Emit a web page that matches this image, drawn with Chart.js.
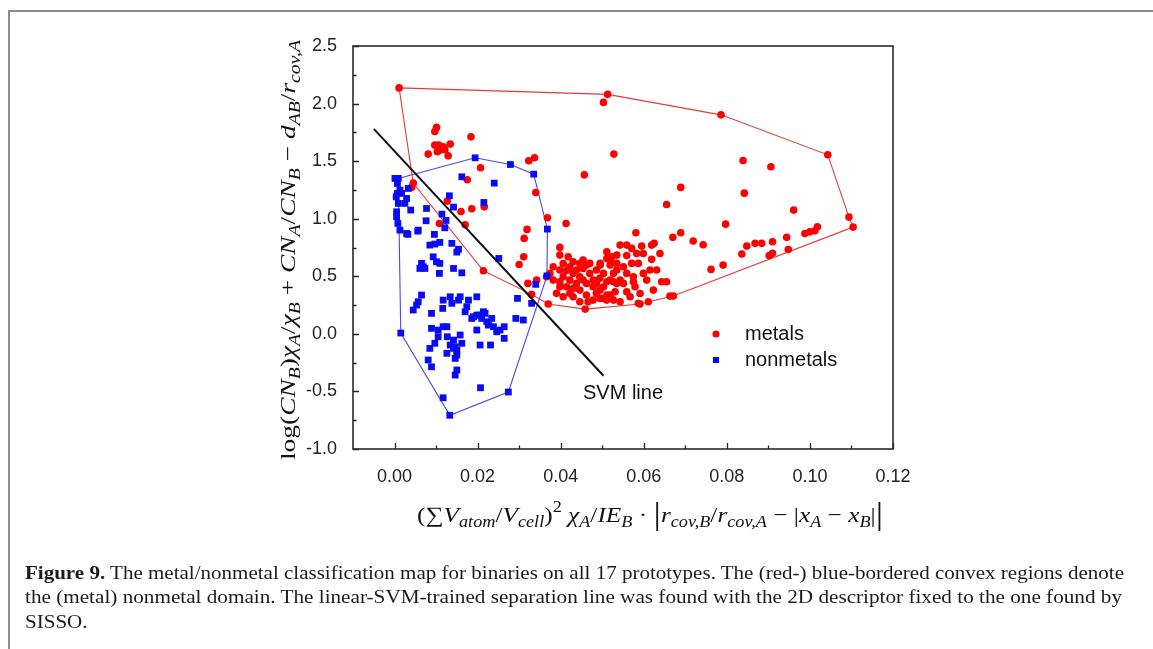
<!DOCTYPE html>
<html>
<head>
<meta charset="utf-8">
<script src="https://cdn.jsdelivr.net/npm/chart.js@4.4.1/dist/chart.umd.min.js"></script>
<style>
  html, body { margin: 0; padding: 0; background: #fff; width: 1153px; height: 649px; overflow: hidden; }
  #frame { position: absolute; left: 8px; top: 10px; width: 1200px; height: 700px; border-left: 2px solid #8c8c8c; border-top: 2px solid #8c8c8c; }
  #chart { position: absolute; left: 0; top: 0; }
  .cap { position: absolute; left: 25px; font-family: "Liberation Serif", serif; font-size: 19px; color: #1e1a1b; white-space: nowrap; transform-origin: 0 0; }
</style>
</head>
<body>
<div id="frame"></div>
<canvas id="chart" width="1153" height="649"></canvas>
<div class="cap" id="cap1" style="top:562px"><b>Figure 9.</b> The metal/nonmetal classification map for binaries on all 17 prototypes. The (red-) blue-bordered convex regions denote</div>
<div class="cap" id="cap2" style="top:586px">the (metal) nonmetal domain. The linear-SVM-trained separation line was found with the 2D descriptor fixed to the one found by</div>
<div class="cap" id="cap3" style="top:611px">SISSO.</div>
<script>
// axis ticks
var xTicks = [0, 0.02, 0.04, 0.06, 0.08, 0.10, 0.12];
var yTicks = [-1.0, -0.5, 0.0, 0.5, 1.0, 1.5, 2.0, 2.5];

// metals (red circles)
var metals = [
  [0.0011,2.136],[0.0513,2.08],[0.0503,2.01],[0.0786,1.902],[0.1043,1.555],[0.1094,1.014],[0.1104,0.927],
  [0.0101,1.793],[0.0097,1.758],[0.0184,1.711],[0.0097,1.639],[0.0106,1.639],[0.0117,1.624],[0.0134,1.648],
  [0.0109,1.595],[0.0113,1.61],[0.0121,1.6],[0.0081,1.561],[0.0129,1.546],[0.0103,1.581],
  [0.0207,1.442],[0.0323,1.503],[0.0337,1.529],[0.0175,1.338],[0.0457,1.381],[0.0045,1.309],[0.0041,1.272],
  [0.034,1.228],[0.0127,1.153],[0.016,1.063],[0.0186,1.086],[0.0216,1.103],[0.0108,0.959],[0.017,0.947],
  [0.0368,1.008],[0.0413,0.959],[0.0319,0.907],[0.0312,0.829],[0.0398,0.751],
  [0.0528,1.561],[0.0839,1.506],[0.0906,1.451],[0.0689,1.272],[0.0842,1.222],[0.0655,1.124],[0.0961,1.075],[0.0797,0.953],
  [0.0214,0.548],[0.03,0.603],[0.0311,0.669],[0.0321,0.438],[0.0342,0.467],[0.033,0.343],[0.037,0.259],
  [0.0398,0.684],[0.0418,0.669],[0.043,0.626],[0.0454,0.641],[0.047,0.612],[0.0495,0.597],[0.0511,0.713],
  [0.0519,0.641],[0.0535,0.684],[0.0382,0.583],[0.0398,0.554],[0.0366,0.496],[0.0382,0.467],[0.0398,0.452],
  [0.043,0.525],[0.0446,0.496],[0.047,0.525],[0.0414,0.409],[0.043,0.395],[0.0446,0.38],[0.0462,0.438],
  [0.0478,0.409],[0.0503,0.409],[0.0519,0.467],[0.0535,0.438],[0.039,0.352],[0.0406,0.322],[0.043,0.322],
  [0.0446,0.279],[0.0466,0.279],[0.0495,0.308],[0.0511,0.337],[0.0527,0.293],[0.0459,0.215],
  [0.0581,0.878],[0.067,0.838],[0.0689,0.878],[0.0719,0.806],[0.0743,0.774],[0.0595,0.762],[0.0619,0.771],
  [0.0625,0.786],[0.0543,0.771],[0.0559,0.771],[0.0571,0.742],[0.0511,0.655],[0.0523,0.669],[0.0535,0.612],
  [0.0519,0.597],[0.0495,0.612],[0.0571,0.612],[0.0587,0.612],[0.0619,0.647],[0.0615,0.554],[0.0503,0.525],
  [0.0527,0.525],[0.0543,0.467],[0.0551,0.438],[0.0575,0.496],[0.0575,0.452],[0.0579,0.409],[0.0511,0.452],
  [0.0527,0.452],[0.0495,0.38],[0.0531,0.366],[0.0519,0.337],[0.0503,0.308],[0.0511,0.293],[0.0543,0.279],
  [0.0587,0.265],[0.0611,0.279],[0.0591,0.259],[0.0643,0.452],[0.0655,0.452],[0.0663,0.328],[0.0671,0.328],
  [0.0762,0.56],[0.0791,0.597],[0.0836,0.693],[0.0848,0.762],[0.0868,0.786],[0.0884,0.786],[0.091,0.8],
  [0.091,0.699],[0.0902,0.68],[0.0948,0.733],[0.0944,0.838],[0.0988,0.872],[0.1,0.886],[0.1012,0.895],[0.1018,0.93],
  [0.0406,0.611],[0.0422,0.583],[0.0438,0.554],[0.0454,0.568],[0.0462,0.597],[0.0486,0.554],[0.0494,0.482],
  [0.0478,0.467],[0.0454,0.467],[0.0438,0.438],[0.0422,0.467],[0.0406,0.496],[0.0374,0.525],[0.0486,0.352],
  [0.0462,0.337],[0.0478,0.293],[0.0422,0.352],[0.0398,0.409],[0.0486,0.438],[0.0535,0.554],[0.0559,0.525],
  [0.0551,0.583],[0.0559,0.68],[0.0583,0.698],[0.0599,0.698],[0.0607,0.467],[0.0599,0.525],[0.0631,0.554],
  [0.0567,0.322],[0.0559,0.365],[0.0591,0.351],[0.0623,0.38],[0.0639,0.698],[0.0414,0.55],[0.0446,0.61]
];

// nonmetals (blue squares)
var nonmetals = [
  [0.0001,1.35],[0.0009,1.35],[0.0007,1.306],[0.0013,1.248],[0.0017,1.22],[0.0033,1.263],[0.0029,1.176],
  [0.0009,1.133],[0.0005,1.06],[0.0039,1.075],[0.0008,0.959],[0.0013,0.901],[0.0029,0.872],[0.0057,0.901],
  [0.0077,1.089],[0.0076,0.982],[0.0096,0.864],[0.0114,1.04],[0.0124,0.985],[0.0121,0.921],[0.0132,1.199],
  [0.0142,1.101],[0.0162,1.364],[0.024,1.309],[0.0215,1.141],[0.0007,1.22],[0.0005,1.017],[0.0025,1.133],[0.0004,1.19],
  [0.0194,1.529],[0.0279,1.471],[0.0335,1.387],[0.0368,0.91],[0.0367,0.504],[0.0274,-0.505],[0.0133,-0.707],[0.0015,0.007],
  [0.0032,0.864],[0.0056,0.892],[0.0085,0.771],[0.0097,0.78],[0.0109,0.794],[0.0138,0.786],[0.0154,0.735],[0.015,0.71],
  [0.0093,0.669],[0.0101,0.626],[0.0109,0.612],[0.0065,0.612],[0.0069,0.583],[0.0073,0.568],[0.0061,0.568],
  [0.0108,0.525],[0.0142,0.568],[0.0162,0.53],[0.0251,0.655],
  [0.0045,0.207],[0.0053,0.25],[0.0057,0.279],[0.0065,0.337],[0.0089,0.178],[0.0117,0.293],[0.0116,0.221],
  [0.0138,0.265],[0.0134,0.322],[0.0154,0.293],[0.0158,0.322],[0.017,0.192],[0.0174,0.235],[0.0178,0.293],
  [0.0198,0.322],[0.0186,0.134],[0.019,0.149],[0.0198,0.163],[0.0206,0.163],[0.021,0.134],[0.0214,0.192],
  [0.0218,0.178],[0.0222,0.105],[0.0226,0.076],[0.0234,0.134],[0.0238,0.062],[0.0246,0.018],[0.0254,0.033],
  [0.0264,0.062],[0.0264,-0.039],[0.0198,0.033],[0.0206,-0.097],[0.0231,-0.097],[0.0089,0.048],[0.0105,0.033],
  [0.0105,-0.025],[0.0097,-0.082],[0.0117,0.062],[0.0126,0.062],[0.0127,-0.025],[0.0134,-0.097],[0.0142,-0.054],
  [0.0146,-0.112],[0.0158,-0.01],[0.0162,-0.082],[0.015,-0.141],[0.0142,-0.126],[0.0126,-0.169],[0.0085,-0.126],
  [0.015,-0.184],[0.0146,-0.213],[0.0081,-0.227],[0.0089,-0.286],[0.015,-0.314],[0.0146,-0.358],[0.0207,-0.468],
  [0.0117,-0.555],[0.0296,0.308],[0.0292,0.134],[0.031,0.12],[0.033,0.265],[0.034,0.43]
];

// convex hull borders
var metalHull = [
  [0.0011,2.136],[0.0513,2.08],[0.0786,1.902],[0.1043,1.555],[0.1094,1.014],[0.1104,0.927],
  [0.0671,0.328],[0.0611,0.279],[0.0591,0.259],[0.0459,0.215],[0.037,0.259],[0.033,0.343],
  [0.0214,0.548],[0.0045,1.309],[0.0011,2.136]
];
var nonmetalHull = [
  [0.0009,1.35],[0.0194,1.529],[0.0279,1.471],[0.0335,1.387],[0.0368,0.91],[0.0367,0.504],
  [0.0274,-0.505],[0.0133,-0.707],[0.0015,0.007],[0.0009,1.35]
];
var svmLine = [[-0.005,1.78],[0.0503,-0.364]];

function pts(a) {
  return a.map(function(p) { return {x: p[0], y: p[1]}; });
}

// caption fit
(function() {
  var c1 = document.getElementById('cap1'), c2 = document.getElementById('cap2'), c3 = document.getElementById('cap3');
  var k1 = 1099 / c1.getBoundingClientRect().width;
  var k2 = 1097 / c2.getBoundingClientRect().width;
  c1.style.transform = 'scaleX(' + k1 + ')';
  c2.style.transform = 'scaleX(' + k2 + ')';
  c3.style.transform = 'scaleX(' + k1 + ')';
})();

var SERIF = '"Liberation Serif", serif';

function drawRich(ctx, segs, size, target) {
  var w = 0;
  segs.forEach(function(s) {
    var fs = size * (s.sub || s.sup ? 0.72 : (s.big || 1));
    s.font = (s.it ? 'italic ' : '') + fs + 'px ' + SERIF;
    ctx.font = s.font;
    s.w = ctx.measureText(s.t).width;
    w += s.w;
  });
  var k = target / w;
  ctx.save();
  ctx.scale(k, 1);
  var x = -w / 2;
  ctx.textBaseline = 'alphabetic';
  ctx.textAlign = 'left';
  segs.forEach(function(s) {
    ctx.font = s.font;
    var dy = s.sub ? size * 0.25 : (s.sup ? -size * 0.42 : 0);
    if (s.big) dy = size * 0.12;
    ctx.fillText(s.t, x, size * 0.35 + dy);
    x += s.w;
  });
  ctx.restore();
}

var yTitle = [
  {t: 'log('}, {t: 'CN', it: 1}, {t: 'B', it: 1, sub: 1}, {t: ')'}, {t: 'χ', it: 1}, {t: 'A', it: 1, sub: 1},
  {t: '/'}, {t: 'χ', it: 1}, {t: 'B', it: 1, sub: 1}, {t: ' + '}, {t: 'CN', it: 1}, {t: 'A', it: 1, sub: 1},
  {t: '/'}, {t: 'CN', it: 1}, {t: 'B', it: 1, sub: 1}, {t: ' − '}, {t: 'd', it: 1}, {t: 'AB', it: 1, sub: 1},
  {t: '/'}, {t: 'r', it: 1}, {t: 'cov,A', it: 1, sub: 1}
];
var xTitle = [
  {t: '(∑'}, {t: 'V', it: 1}, {t: 'atom', it: 1, sub: 1}, {t: '/'}, {t: 'V', it: 1}, {t: 'cell', it: 1, sub: 1},
  {t: ')'}, {t: '2', sup: 1}, {t: ' '}, {t: 'χ', it: 1}, {t: 'A', it: 1, sub: 1}, {t: '/'}, {t: 'IE', it: 1},
  {t: 'B', it: 1, sub: 1}, {t: ' · '}, {t: '|', big: 1.45}, {t: 'r', it: 1}, {t: 'cov,B', it: 1, sub: 1}, {t: '/'},
  {t: 'r', it: 1}, {t: 'cov,A', it: 1, sub: 1}, {t: ' − |'}, {t: 'x', it: 1}, {t: 'A', it: 1, sub: 1}, {t: ' − '},
  {t: 'x', it: 1}, {t: 'B', it: 1, sub: 1}, {t: '|'}, {t: '|', big: 1.45}
];

var deco = {
  id: 'deco',
  afterDatasetsDraw: function(chart) {
    var c = chart.ctx, a = chart.chartArea, sx = chart.scales.x, sy = chart.scales.y;
    c.save();
    // inner ticks
    c.strokeStyle = '#222';
    c.lineWidth = 1.3;
    c.beginPath();
    xTicks.forEach(function(v, i) {
      var px = Math.round(sx.getPixelForValue(v)) + 0.5;
      c.moveTo(px, a.bottom); c.lineTo(px, a.bottom - 6);
      if (i > 0) {
        var pm = Math.round(sx.getPixelForValue(v - 0.01)) + 0.5;
        c.moveTo(pm, a.bottom); c.lineTo(pm, a.bottom - 3.5);
      }
    });
    yTicks.forEach(function(v, i) {
      var py = Math.round(sy.getPixelForValue(v)) + 0.5;
      c.moveTo(a.left, py); c.lineTo(a.left + 6, py);
      if (i > 0) {
        var pm = Math.round(sy.getPixelForValue(v - 0.25)) + 0.5;
        c.moveTo(a.left, pm); c.lineTo(a.left + 3.5, pm);
      }
    });
    c.stroke();
    // box
    c.strokeStyle = '#2a2a2a';
    c.lineWidth = 1.6;
    c.strokeRect(a.left, a.top, a.right - a.left, a.bottom - a.top);

    // SVM label
    c.fillStyle = '#111';
    c.font = '20px "Liberation Sans", Arial, sans-serif';
    c.textBaseline = 'middle';
    c.textAlign = 'left';
    c.fillText('SVM line', 583, 393);

    // legend
    c.fillStyle = '#ff0000';
    c.beginPath(); c.arc(716, 334, 3.6, 0, Math.PI * 2); c.fill();
    c.fillStyle = '#0000ff';
    c.fillRect(713, 357, 6, 6);
    c.fillStyle = '#111';
    c.fillText('metals', 745, 334);
    c.fillText('nonmetals', 745, 360);

    // axis titles
    c.fillStyle = '#111';
    c.save();
    c.translate(287, 250);
    c.rotate(-Math.PI / 2);
    drawRich(c, yTitle, 22, 420);
    c.restore();
    c.save();
    c.translate(650, 514);
    drawRich(c, xTitle, 22, 466);
    c.restore();
    c.restore();
  }
};

var labelFont = {family: '"Liberation Sans", Arial, sans-serif', size: 18};

new Chart(document.getElementById('chart'), {
  type: 'scatter',
  data: {
    datasets: [
      {label: 'SVM line', data: pts(svmLine), showLine: true, borderColor: '#111', borderWidth: 2, pointRadius: 0, order: 0},
      {label: 'nonmetals', data: pts(nonmetals), pointStyle: 'rect', pointRadius: 4.8, backgroundColor: '#0a0af5', borderWidth: 0, order: 1},
      {label: 'metals', data: pts(metals), pointStyle: 'circle', pointRadius: 3.8, backgroundColor: '#ff0000', borderWidth: 0, order: 2},
      {label: 'metal hull', data: pts(metalHull), showLine: true, borderColor: '#e53b3b', borderWidth: 1.1, pointRadius: 0, order: 3},
      {label: 'nonmetal hull', data: pts(nonmetalHull), showLine: true, borderColor: '#4747e6', borderWidth: 1.1, pointRadius: 0, order: 3}
    ]
  },
  options: {
    responsive: false,
    animation: false,
    devicePixelRatio: 1,
    layout: {padding: {left: 250, right: 260, top: 46, bottom: 100}},
    plugins: {legend: {display: false}, tooltip: {enabled: false}},
    scales: {
      x: {
        type: 'linear', min: -0.01, max: 0.12,
        afterBuildTicks: function(s) { s.ticks = xTicks.map(function(v) { return {value: v}; }); },
        afterFit: function(s) { s.height = 100; },
        ticks: {callback: function(v) { return v.toFixed(2); }, font: labelFont, color: '#222', padding: 9, maxRotation: 0, autoSkip: false},
        grid: {display: false}, border: {display: false}
      },
      y: {
        type: 'linear', min: -1, max: 2.5,
        afterBuildTicks: function(s) { s.ticks = yTicks.map(function(v) { return {value: v}; }); },
        afterFit: function(s) { s.width = 103; },
        ticks: {callback: function(v) { return v.toFixed(1); }, font: labelFont, color: '#222', padding: 8, autoSkip: false},
        grid: {display: false}, border: {display: false}
      }
    }
  },
  plugins: [deco]
});
</script>
</body>
</html>
